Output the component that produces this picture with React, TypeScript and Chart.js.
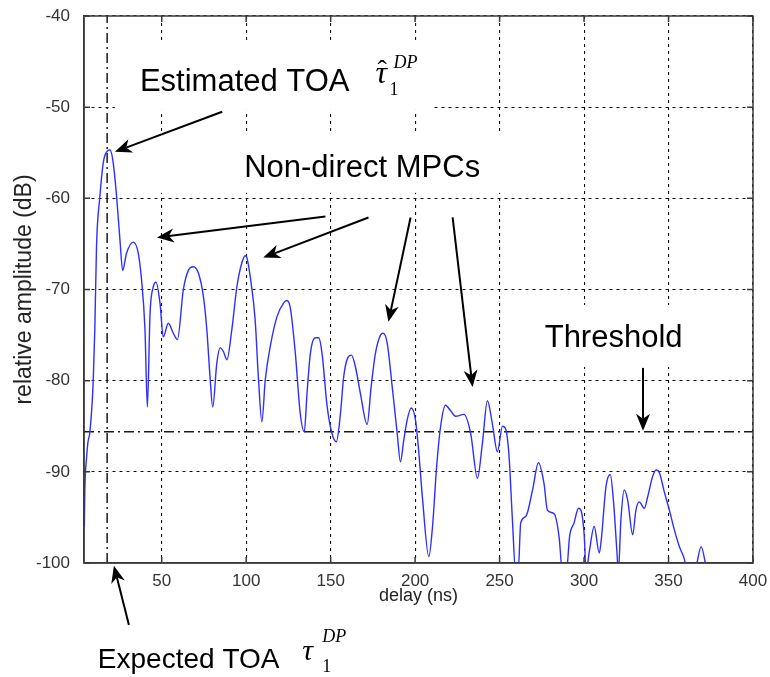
import React, { useEffect, useRef } from "react";
import { Chart, registerables } from "chart.js";

Chart.register(...registerables);

// ---- data ----
const delayNs = [
  4.2, 4.5, 5.5, 6.3, 7.5, 9.4, 10.4, 11.4, 13.4, 15.4, 17.4, 19.4, 21.3, 23.3, 25.3, 26.9,
  29.2, 33.2, 36.1, 38.1, 40.1, 41.5, 43.1, 45.0, 46.6, 49.0, 50.9, 53.9, 56.9, 59.3, 62.8,
  65.8, 68.7, 71.7, 74.7, 76.7, 78.6, 80.2, 82.6, 84.6, 86.5, 88.6, 91.5, 94.5, 97.4, 99.4,
  100.4, 102.4, 105.3, 107.3, 109.3, 111.3, 114.2, 118.2, 122.1, 124.1, 126.1, 129.1, 132.0,
  134.4, 136.0, 138.0, 140.9, 142.9, 144.9, 147.9, 150.8, 153.4, 155.8, 157.7, 160.1, 162.3,
  164.7, 167.6, 171.6, 174.0, 176.5, 179.5, 181.1, 183.5, 186.4, 189.4, 191.3, 193.3, 195.3,
  197.7, 200.2, 202.2, 204.4, 208.1, 210.3, 212.7, 215.1, 218.0, 221.0, 224.0, 228.9, 232.9,
  236.9, 239.8, 242.8, 245.7, 248.7, 251.7, 253.6, 255.6, 257.6, 259.5, 261.0, 262.5, 265.5,
  269.5, 273.0, 276.3, 278.3, 282.3, 285.2, 287.2, 289.5, 291.5, 294.1, 296.7, 298.1, 300.1,
  301.2, 303.0, 306.0, 309.0, 310.0, 313.0, 315.5, 317.5, 319.5, 320.3, 321.8, 323.8, 325.8,
  328.8, 330.7, 332.7, 335.7, 337.7, 340.6, 342.6, 344.6, 347.5, 350.5, 353.5, 356.4, 359.4,
  361.0, 366.3, 369.3, 372.2, 375.0,
];
const amplitudeDb = [
  -96, -92, -88.5, -86.8, -85.6, -80.3, -74.4, -65.3, -59.8, -56.1, -54.9, -54.7, -56.1, -59.8, -64.6, -67.9,
  -66, -64.8, -66, -69, -74.4, -82.9, -72.6, -69.7, -69.2, -71.5, -75.2, -73.7, -74.8, -75.5, -70,
  -67.9, -67.5, -68.2, -70.8, -74.4, -79.6, -82.9, -78.1, -76.4, -76.8, -77.7, -74.4, -69.7, -67.1, -66.3,
  -66.5, -68.6, -73.3, -79.9, -84.5, -79.9, -76.3, -73, -71.5, -71.2, -72, -77, -83.6,
  -85.6, -81.4, -77, -75.3, -75.3, -77, -82.8, -85.8, -86.7, -83.6, -79.6, -77.5, -77.2,
  -78.5, -81.4, -84.8, -80.6, -77, -75, -74.8, -75.9, -80.6, -85.8, -88.9, -86.5, -84.3,
  -83, -84.3, -87.9, -93, -99.3, -96, -89.5, -85, -82.7, -83.3, -83.9, -83.7, -85.8,
  -90.7, -86.9, -82.2, -84.7, -87.8, -85, -85.3, -88.3, -95.3, -101, -101, -95.6, -94.9,
  -92, -89, -91.3, -94.2, -94.6, -97.1, -101, -101, -97, -95.6, -94, -94.2, -97,
  -101, -98.9, -96, -98.9, -97.8, -91.6, -90.3, -93.4, -98.9, -101, -95.3, -92, -93.1,
  -96.9, -94.2, -93.3, -94, -92.7, -90.5, -89.8, -90.1, -92.2, -94.2, -96.4, -98.2, -99.6,
  -101, -100.3, -98.2, -100.3, -102,
];
const xTickValues = [50, 100, 150, 200, 250, 300, 350, 400];
const yTickValues = [-100, -90, -80, -70, -60, -50, -40];
const xMin = 4;
const xMax = 400;
const yMin = -100;
const yMax = -40;
const thresholdDb = -85.6;
const expectedToaNs = 17.7;

// ---- annotations (data coordinates) ----
const labelTexts = [
  { text: "Estimated TOA", x: 37.1, y: -48.2, size: 31 },
  { text: "Non-direct MPCs", x: 98.8, y: -57.65, size: 31 },
  { text: "Threshold", x: 276.7, y: -76.3, size: 31 },
  { text: "Expected TOA", x: 12.2, y: -111.5, size: 28 },
];
const tauSymbols = [
  { x: 176.5, y: -47.35, hat: true, size: 32, subDx: 14, subDy: 12, supDx: 18, supDy: -15 },
  { x: 133.2, y: -110.6, hat: false, size: 30, subDx: 20, subDy: 12, supDx: 20, supDy: -18 },
];
const arrows = [
  { from: [85.8, -50.5], to: [22.3, -54.9] },
  { from: [146.9, -62.0], to: [47.2, -64.3] },
  { from: [172.4, -62.1], to: [110.1, -66.5] },
  { from: [197.3, -62.1], to: [184.2, -73.55] },
  { from: [222.2, -62.1], to: [234.0, -80.7] },
  { from: [334.9, -78.6], to: [334.9, -85.5] },
  { from: [30.6, -106.8], to: [21.7, -100.3] },
];
const whiteBoxes = [
  { x0: 22.3, x1: 210.9, y0: -42.96, y1: -50.3 },
  { x0: 43.1, x1: 253.6, y0: -52.8, y1: -59.4 },
  { x0: 268.4, x1: 366.3, y0: -71.7, y1: -78.5 },
];

function drawArrow(ctx: CanvasRenderingContext2D, x1: number, y1: number, x2: number, y2: number) {
  const ang = Math.atan2(y2 - y1, x2 - x1);
  const c = Math.cos(ang);
  const s = Math.sin(ang);
  const L = 17;
  const W = 7;
  const notch = 5;
  ctx.beginPath();
  ctx.moveTo(x1, y1);
  ctx.lineTo(x2 - (L - notch) * c, y2 - (L - notch) * s);
  ctx.stroke();
  ctx.beginPath();
  ctx.moveTo(x2, y2);
  ctx.lineTo(x2 - L * c - W * s, y2 - L * s + W * c);
  ctx.lineTo(x2 - (L - notch) * c, y2 - (L - notch) * s);
  ctx.lineTo(x2 - L * c + W * s, y2 - L * s - W * c);
  ctx.closePath();
  ctx.fill();
}

const annotationPlugin = {
  id: "figureAnnotations",
  beforeDatasetsDraw(chart: any) {
    const { ctx, scales } = chart;
    const x = scales.x;
    const y = scales.y;
    ctx.save();
    ctx.fillStyle = "#ffffff";
    for (const b of whiteBoxes) {
      const a1 = x.getPixelForValue(b.x0);
      const a2 = x.getPixelForValue(b.x1);
      const b1 = y.getPixelForValue(b.y0);
      const b2 = y.getPixelForValue(b.y1);
      ctx.fillRect(Math.min(a1, a2), Math.min(b1, b2), Math.abs(a2 - a1), Math.abs(b2 - b1));
    }
    ctx.restore();
  },
  afterDatasetsDraw(chart: any) {
    const { ctx, chartArea, scales } = chart;
    const { left, right, top, bottom } = chartArea;
    const x = scales.x;
    const y = scales.y;
    ctx.save();
    ctx.strokeStyle = "#3a3a3a";
    ctx.lineWidth = 1.5;
    ctx.beginPath();
    for (const v of xTickValues) {
      const px = x.getPixelForValue(v);
      ctx.moveTo(px, bottom);
      ctx.lineTo(px, bottom - 6);
      ctx.moveTo(px, top);
      ctx.lineTo(px, top + 6);
    }
    for (const v of yTickValues) {
      const py = y.getPixelForValue(v);
      ctx.moveTo(left, py);
      ctx.lineTo(left + 6, py);
      ctx.moveTo(right, py);
      ctx.lineTo(right - 6, py);
    }
    ctx.stroke();
    ctx.strokeRect(left, top, right - left, bottom - top);
    ctx.restore();
  },
  afterDraw(chart: any) {
    const { ctx, scales } = chart;
    const x = scales.x;
    const y = scales.y;
    ctx.save();
    ctx.fillStyle = "#000000";
    ctx.strokeStyle = "#000000";
    ctx.textBaseline = "alphabetic";
    ctx.textAlign = "left";
    for (const t of labelTexts) {
      ctx.font = `${t.size}px "Liberation Sans", Arial, sans-serif`;
      ctx.fillText(t.text, x.getPixelForValue(t.x), y.getPixelForValue(t.y));
    }
    for (const s of tauSymbols) {
      const px = x.getPixelForValue(s.x);
      const py = y.getPixelForValue(s.y);
      ctx.font = `italic ${s.size}px "Liberation Serif", "Times New Roman", serif`;
      ctx.fillText("τ", px, py);
      if (s.hat) {
        ctx.font = `${s.size - 4}px "Liberation Serif", "Times New Roman", serif`;
        ctx.fillText("ˆ", px + 2, py - 4);
      }
      ctx.font = `18px "Liberation Serif", "Times New Roman", serif`;
      ctx.fillText("1", px + s.subDx, py + s.subDy);
      ctx.font = `italic 18px "Liberation Serif", "Times New Roman", serif`;
      ctx.fillText("DP", px + s.supDx, py + s.supDy);
    }
    ctx.lineWidth = 2;
    for (const a of arrows) {
      drawArrow(
        ctx,
        x.getPixelForValue(a.from[0]),
        y.getPixelForValue(a.from[1]),
        x.getPixelForValue(a.to[0]),
        y.getPixelForValue(a.to[1])
      );
    }
    ctx.restore();
  },
};

export default function App() {
  const ref = useRef<HTMLCanvasElement>(null);
  useEffect(() => {
    const canvas = ref.current;
    if (!canvas) return;
    Chart.defaults.font.family = '"Liberation Sans", Arial, sans-serif';
    const chart = new Chart(canvas, {
      type: "scatter",
      data: {
        datasets: [
          {
            data: delayNs.map((d, i) => ({ x: d, y: amplitudeDb[i] })),
            showLine: true,
            borderColor: "#2e2eff",
            borderWidth: 1.4,
            pointRadius: 0,
            cubicInterpolationMode: "monotone",
          },
          {
            data: [
              { x: xMin, y: thresholdDb },
              { x: xMax, y: thresholdDb },
            ],
            showLine: true,
            borderColor: "#1a1a1a",
            borderWidth: 1.5,
            borderDash: [10, 4, 2, 4],
            pointRadius: 0,
          },
          {
            data: [
              { x: expectedToaNs, y: yMin },
              { x: expectedToaNs, y: yMax },
            ],
            showLine: true,
            borderColor: "#1a1a1a",
            borderWidth: 1.5,
            borderDash: [10, 4, 2, 4],
            pointRadius: 0,
          },
        ],
      },
      options: {
        responsive: false,
        animation: false,
        events: [],
        layout: { padding: { top: 16, right: 17, left: 0, bottom: 70 } },
        plugins: { legend: { display: false }, tooltip: { enabled: false } },
        scales: {
          x: {
            type: "linear",
            min: xMin,
            max: xMax,
            afterBuildTicks: (s: any) => {
              s.ticks = xTickValues.map((v) => ({ value: v }));
            },
            afterFit: (s: any) => {
              s.height = 44;
              s.paddingLeft = 0;
              s.paddingRight = 0;
            },
            ticks: { padding: 8, font: { size: 17 }, color: "#333333", maxRotation: 0, autoSkip: false },
            grid: { color: "#111111", lineWidth: 1.1, drawTicks: false },
            border: { dash: [3, 4], color: "#3a3a3a", width: 1.5 },
            title: {
              display: true,
              text: "delay (ns)",
              font: { size: 18 },
              color: "#222222",
              padding: { top: 0, bottom: 0 },
            },
          },
          y: {
            type: "linear",
            min: yMin,
            max: yMax,
            afterBuildTicks: (s: any) => {
              s.ticks = yTickValues.map((v) => ({ value: v }));
            },
            afterFit: (s: any) => {
              s.width = 84;
              s.paddingTop = 0;
              s.paddingBottom = 0;
            },
            ticks: { padding: 14, font: { size: 17 }, color: "#333333", autoSkip: false },
            grid: { color: "#111111", lineWidth: 1.1, drawTicks: false },
            border: { dash: [3, 4], color: "#3a3a3a", width: 1.5 },
            title: {
              display: true,
              text: "relative amplitude (dB)",
              font: { size: 23 },
              color: "#222222",
              padding: { top: 11, bottom: 0 },
            },
          },
        },
      },
      plugins: [annotationPlugin],
    });
    return () => chart.destroy();
  }, []);
  return (
    <div style={{ position: "absolute", left: 0, top: 0, width: 770, height: 677, background: "#ffffff" }}>
      <canvas ref={ref} width={770} height={677} style={{ display: "block" }} />
    </div>
  );
}
